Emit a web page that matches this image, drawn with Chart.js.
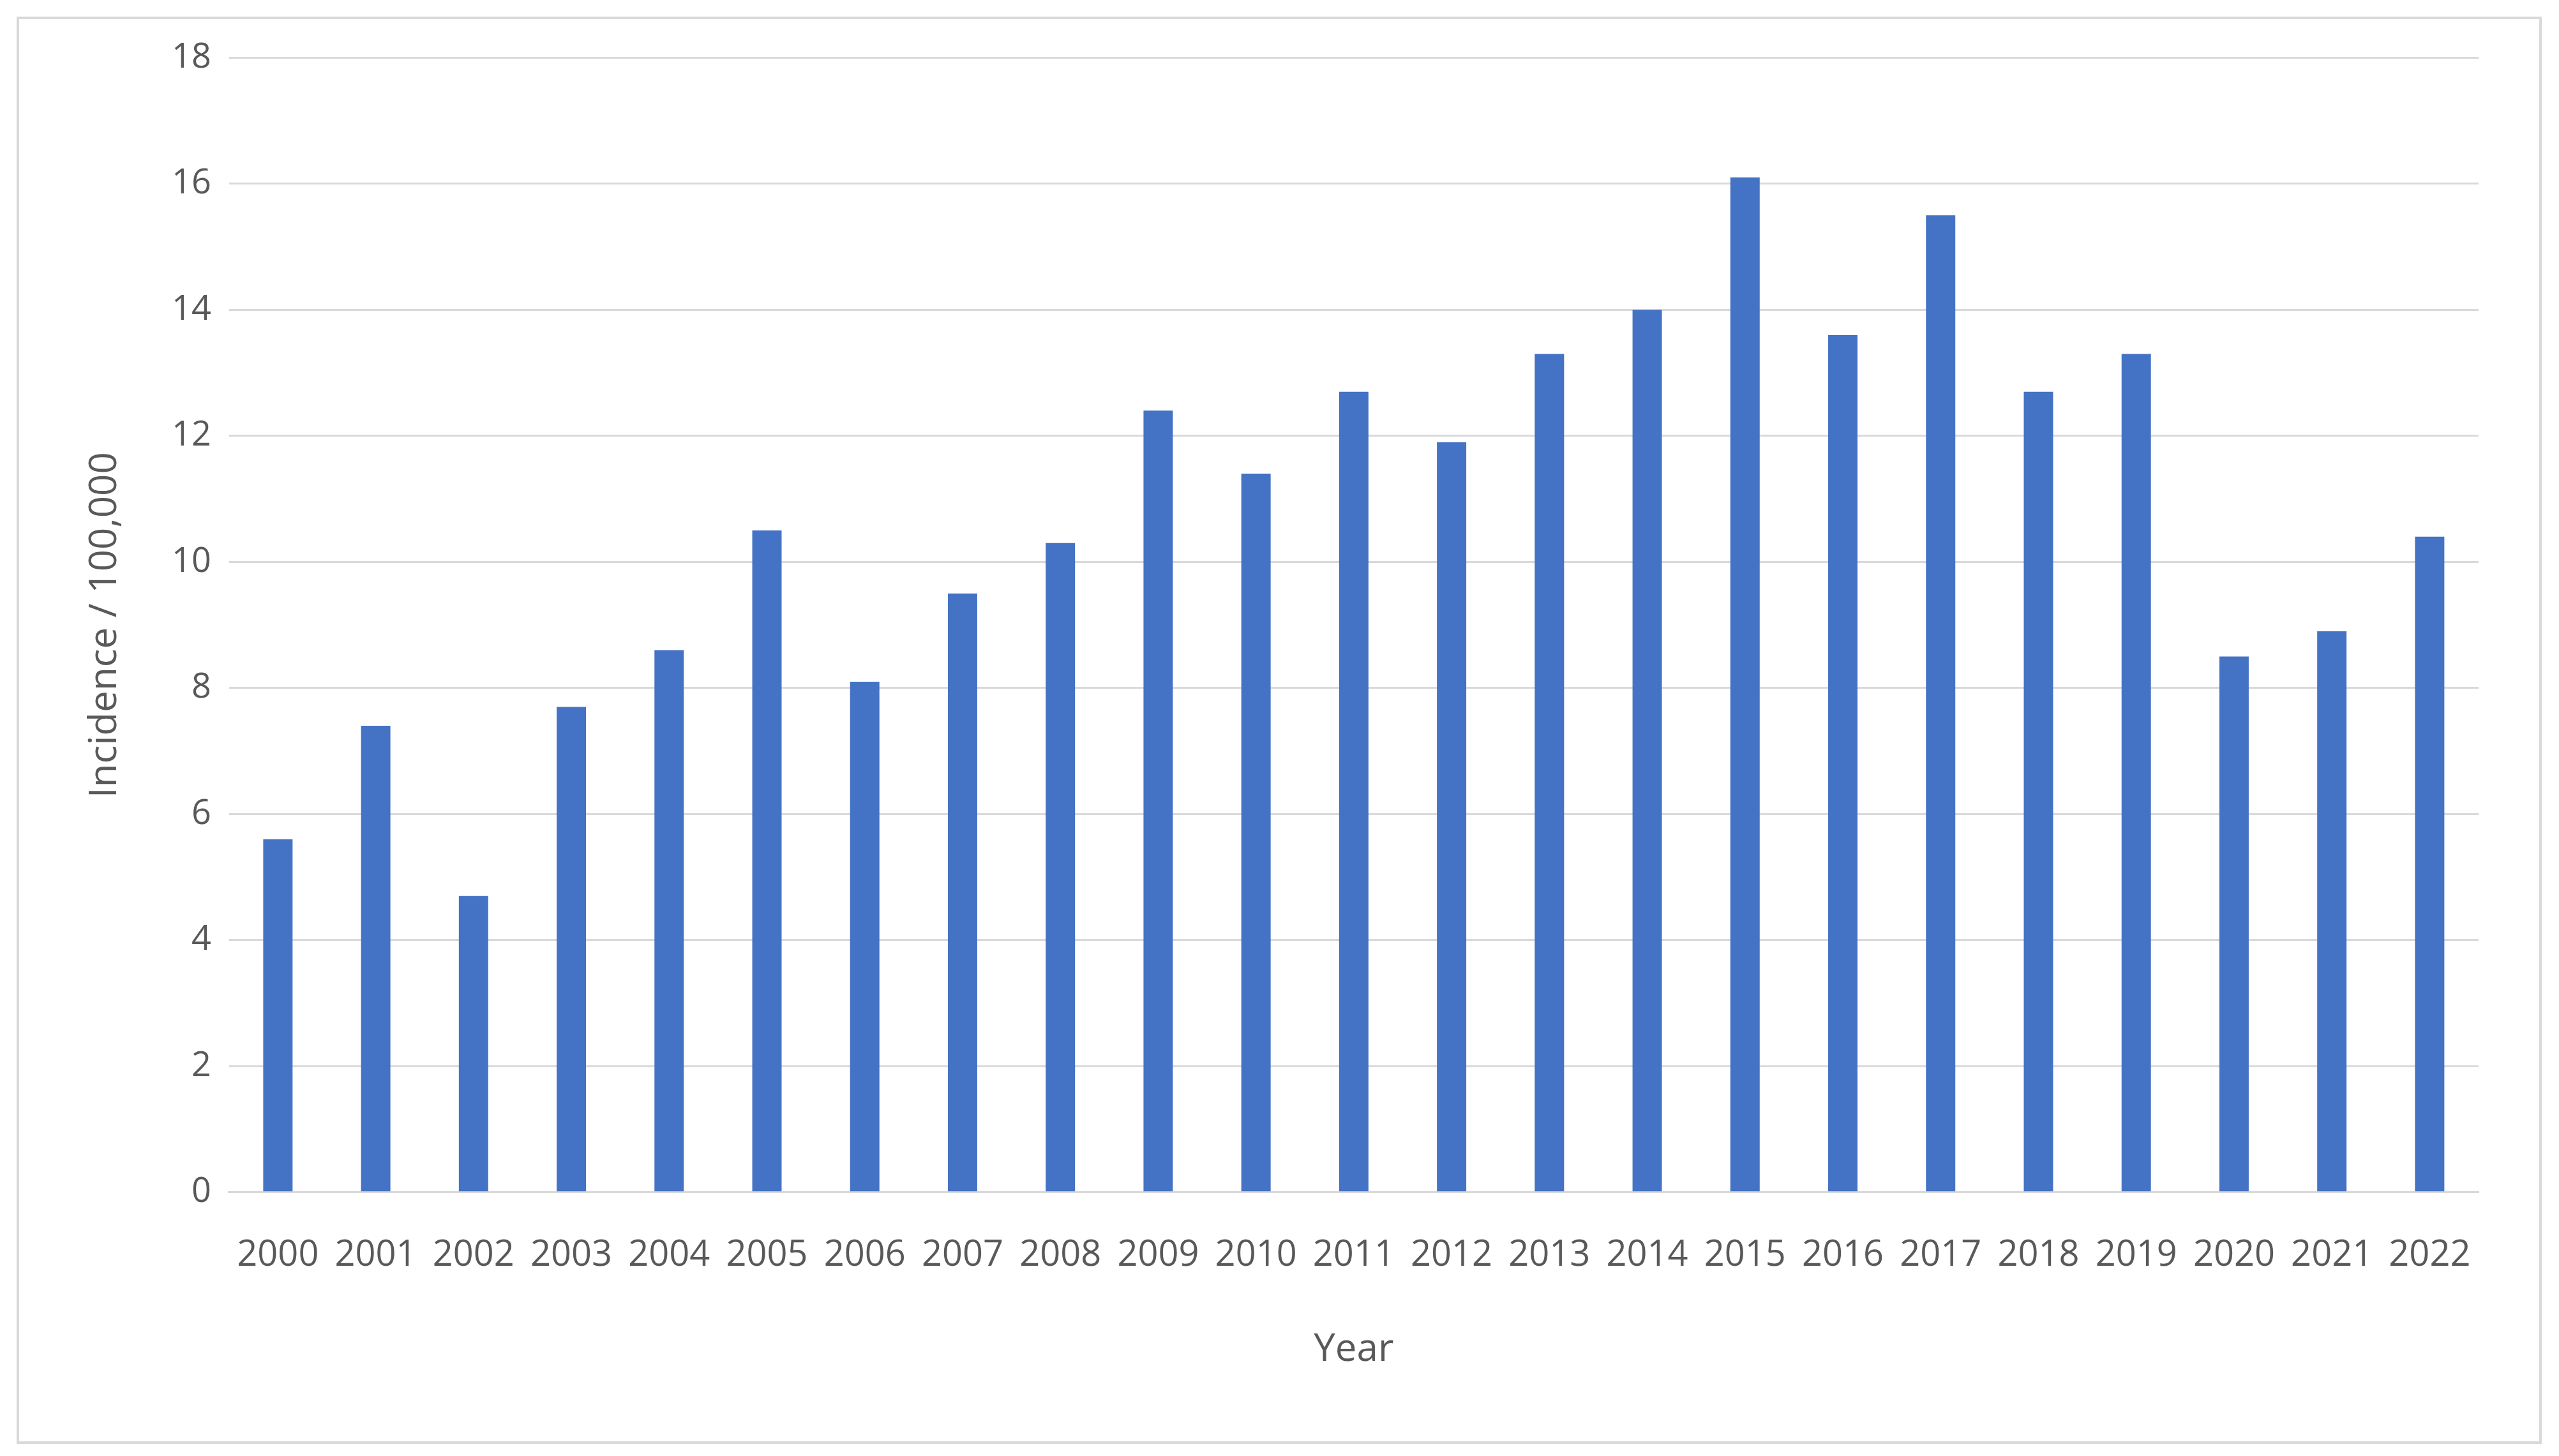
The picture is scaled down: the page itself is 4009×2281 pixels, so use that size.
<!DOCTYPE html>
<html lang="en">
<head>
  <meta charset="UTF-8">
  <title>Incidence per year</title>
  <script src="https://cdn.jsdelivr.net/npm/chart.js"></script>
  <style>
    html, body { margin: 0; background: #fff; }
    #frame { position: absolute; left: 26px; top: 26px; width: 3948px; height: 2228px; border: 4px solid #d9d9d9; }
  </style>
</head>
<body>
  <div id="frame"><canvas id="incidenceChart"></canvas></div>
  <script>
    const years = ['2000','2001','2002','2003','2004','2005','2006','2007','2008','2009','2010','2011',
                   '2012','2013','2014','2015','2016','2017','2018','2019','2020','2021','2022'];
    const incidence = [5.6, 7.4, 4.7, 7.7, 8.6, 10.5, 8.1, 9.5, 10.3, 12.4, 11.4, 12.7,
                       11.9, 13.3, 14.0, 16.1, 13.6, 15.5, 12.7, 13.3, 8.5, 8.9, 10.4];

    Chart.defaults.font.family = "'Open Sans', sans-serif";
    Chart.defaults.color = '#595959';

    new Chart(document.getElementById('incidenceChart'), {
      type: 'bar',
      data: {
        labels: years,
        datasets: [{
          label: 'Incidence',
          data: incidence,
          backgroundColor: '#4472C4',
          barPercentage: 0.3,
          categoryPercentage: 1
        }]
      },
      options: {
        responsive: true,
        maintainAspectRatio: false,
        devicePixelRatio: 1,
        animation: false,
        layout: { padding: { left: 95, right: 95, top: 60, bottom: 103 } },
        plugins: { legend: { display: false }, tooltip: { enabled: false } },
        scales: {
          x: {
            grid: { display: false },
            border: { color: '#d9d9d9', width: 3 },
            ticks: { font: { size: 56 }, autoSkip: false, maxRotation: 0, padding: 58 },
            title: { display: true, text: 'Year', font: { size: 60 }, padding: { top: 20 } }
          },
          y: {
            min: 0, max: 18,
            ticks: { stepSize: 2, font: { size: 54 }, padding: 28 },
            grid: { color: '#d9d9d9', lineWidth: 3, drawTicks: false },
            border: { display: false },
            title: { display: true, text: 'Incidence / 100,000', font: { size: 60 }, padding: { bottom: 40 } }
          }
        }
      }
    });
  </script>
</body>
</html>
